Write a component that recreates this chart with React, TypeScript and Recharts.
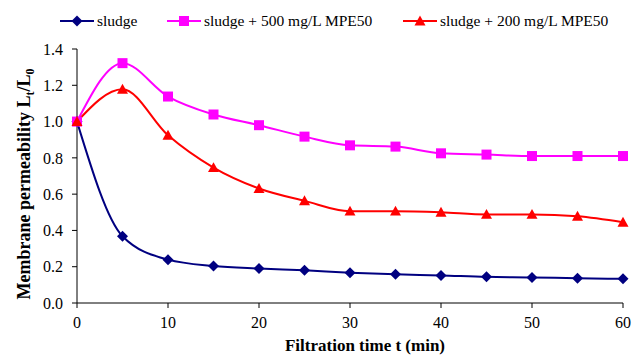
import { Line, LineChart, XAxis, YAxis } from "recharts";

const times = [0, 5, 10, 15, 20, 25, 30, 35, 40, 45, 50, 55, 60];
const sludge = [1.0, 0.368, 0.239, 0.204, 0.19, 0.18, 0.167, 0.158, 0.152, 0.144, 0.141, 0.136, 0.133];
const sludge500 = [1.0, 1.322, 1.138, 1.039, 0.98, 0.917, 0.869, 0.862, 0.825, 0.818, 0.81, 0.81, 0.81];
const sludge200 = [1.0, 1.178, 0.924, 0.746, 0.631, 0.563, 0.506, 0.506, 0.5, 0.488, 0.488, 0.478, 0.445];
const xTicks = [0, 10, 20, 30, 40, 50, 60];
const yTicks = [0, 0.2, 0.4, 0.6, 0.8, 1.0, 1.2, 1.4];

const data = times.map((t, i) => ({
  t,
  sludge: sludge[i],
  s500: sludge500[i],
  s200: sludge200[i],
}));

const FONT = "'Liberation Serif', 'Times New Roman', serif";

const SERIES = [
  { key: "sludge", label: "sludge", color: "#000080", shape: "diamond" },
  { key: "s500", label: "sludge + 500 mg/L MPE50", color: "#FF00FF", shape: "square" },
  { key: "s200", label: "sludge + 200 mg/L MPE50", color: "#FF0000", shape: "triangle" },
] as const;

// left edge of each legend entry
const legendX = [60, 167, 403];

function Marker({ cx, cy, shape, color }: { cx: number; cy: number; shape: string; color: string }) {
  if (cx == null || cy == null) return null;
  if (shape === "diamond") {
    const r = 5.5;
    return <path d={`M${cx},${cy - r}L${cx + r},${cy}L${cx},${cy + r}L${cx - r},${cy}Z`} fill={color} />;
  }
  if (shape === "square") {
    const r = 5;
    return <rect x={cx - r} y={cy - r} width={r * 2} height={r * 2} fill={color} />;
  }
  const r = 5.5;
  return <path d={`M${cx},${cy - r}L${cx + r},${cy + r * 0.8}L${cx - r},${cy + r * 0.8}Z`} fill={color} />;
}

function YLabel() {
  return (
    <text
      x={30}
      y={184}
      transform="rotate(-90 30 184)"
      textAnchor="middle"
      style={{ fontFamily: FONT, fontWeight: "bold", fontSize: 18 }}
      fill="#000"
    >
      Membrane permeability L
      <tspan fontSize={12} dy={4}>t</tspan>
      <tspan dy={-4}>/L</tspan>
      <tspan fontSize={12} dy={4}>0</tspan>
    </text>
  );
}

function XLabel() {
  return (
    <text x={365} y={351} textAnchor="middle" style={{ fontFamily: FONT, fontWeight: "bold", fontSize: 17 }} fill="#000">
      Filtration time t (min)
    </text>
  );
}

const tickStyle = { fontFamily: FONT, fontSize: 16, fill: "#000" };

export default function App() {
  return (
    <div style={{ position: "absolute", left: 0, top: 0, width: 638, height: 357, background: "#fff", fontFamily: FONT }}>
      <LineChart
        width={638}
        height={357}
        data={data}
        margin={{ top: 49, right: 15, bottom: 24, left: 0 }}
        style={{ fontFamily: FONT }}
      >
        <XAxis
          dataKey="t"
          type="number"
          domain={[0, 60]}
          ticks={xTicks}
          tick={tickStyle}
          tickSize={5}
          tickMargin={9}
          height={30}
          stroke="#000"
          label={<XLabel />}
        />
        <YAxis
          type="number"
          domain={[0, 1.4]}
          ticks={yTicks}
          width={77}
          tickFormatter={(v: number) => v.toFixed(1)}
          tick={tickStyle}
          tickSize={5}
          tickMargin={9}
          stroke="#000"
          label={<YLabel />}
        />
        {SERIES.map((s) => (
          <Line
            key={s.key}
            dataKey={s.key}
            type="monotone"
            stroke={s.color}
            strokeWidth={2}
            isAnimationActive={false}
            dot={(p: any) => <Marker key={p.index} cx={p.cx} cy={p.cy} shape={s.shape} color={s.color} />}
            activeDot={false}
          />
        ))}
      </LineChart>
      {SERIES.map((s, i) => (
        <div
          key={s.key}
          style={{
            position: "absolute",
            left: legendX[i],
            top: 12,
            height: 18,
            display: "flex",
            alignItems: "center",
            whiteSpace: "nowrap",
            fontSize: 15.5,
            lineHeight: "18px",
            fontFamily: FONT,
            color: "#000",
          }}
        >
          <svg width={34} height={14} style={{ display: "block" }}>
            <line x1={0} y1={7} x2={34} y2={7} stroke={s.color} strokeWidth={2} />
            <Marker cx={17} cy={7} shape={s.shape} color={s.color} />
          </svg>
          <span style={{ marginLeft: 3 }}>{s.label}</span>
        </div>
      ))}
    </div>
  );
}
